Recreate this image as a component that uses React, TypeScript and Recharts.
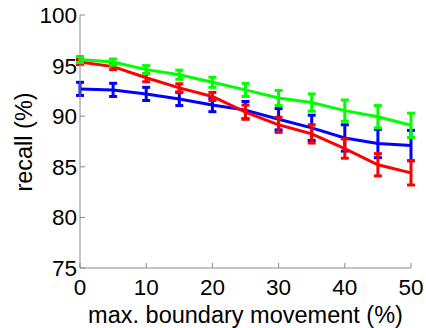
import React from 'react';
import { LineChart, Line, XAxis, YAxis, ErrorBar, Label } from 'recharts';

const movement = [0, 5, 10, 15, 20, 25, 30, 35, 40, 45, 50];

const greenRecall = [95.6, 95.35, 94.6, 94.1, 93.35, 92.6, 91.8, 91.35, 90.55, 89.95, 89.1];
const greenErr = [0.3, 0.3, 0.4, 0.45, 0.5, 0.65, 0.75, 0.85, 1.05, 1.1, 1.2];

const blueRecall = [92.7, 92.6, 92.2, 91.7, 91.1, 90.6, 89.7, 88.85, 87.85, 87.3, 87.1];
const blueErr = [0.65, 0.65, 0.65, 0.65, 0.65, 0.85, 1.05, 1.25, 1.3, 1.4, 1.5];

const redRecall = [95.35, 94.9, 93.8, 92.8, 91.95, 90.4, 89.15, 88.25, 86.8, 85.2, 84.4];
const redErr = [0.25, 0.3, 0.4, 0.4, 0.4, 0.7, 0.75, 0.9, 0.95, 1.1, 1.2];

const xTicks = [0, 10, 20, 30, 40, 50];
const yTicks = [75, 80, 85, 90, 95, 100];

const data = movement.map((m, i) => ({
  m,
  green: greenRecall[i],
  greenErr: greenErr[i],
  blue: blueRecall[i],
  blueErr: blueErr[i],
  red: redRecall[i],
  redErr: redErr[i],
}));

const font = 'Liberation Sans, Arial, sans-serif';
const axisGray = '#8a8a8a';

const YLabel = () => (
  <text
    x={32}
    y={142}
    transform="rotate(-90 32 142)"
    textAnchor="middle"
    fontSize={23.5}
    fontFamily={font}
    fill="#000"
  >
    recall (%)
  </text>
);

const App: React.FC = () => {
  return (
    <div style={{ position: 'absolute', left: 0, top: 0, width: 426, height: 328, background: '#fff' }}>
      <LineChart
        width={426}
        height={328}
        data={data}
        margin={{ top: 15, right: 15, left: 0, bottom: 0 }}
      >
        <XAxis
          dataKey="m"
          type="number"
          domain={[0, 50]}
          ticks={xTicks}
          height={60}
          stroke={axisGray}
          tickSize={-5}
          tickMargin={16}
          tick={{ fill: '#000', fontSize: 22.5, fontFamily: font }}
          interval={0}
        >
          <Label
            value="max. boundary movement (%)"
            position="insideBottom"
            offset={5}
            fontSize={23.5}
            fontFamily={font}
            fill="#000"
          />
        </XAxis>
        <YAxis
          type="number"
          domain={[75, 100]}
          ticks={yTicks}
          width={80}
          stroke={axisGray}
          tickSize={-5}
          tickMargin={8}
          tick={{ fill: '#000', fontSize: 22.5, fontFamily: font }}
          interval={0}
          allowDataOverflow
        >
          <Label content={<YLabel />} />
        </YAxis>
        <Line dataKey="blue" stroke="#0000ff" strokeWidth={3} dot={false} isAnimationActive={false}>
          <ErrorBar dataKey="blueErr" width={4} strokeWidth={3} stroke="#0000ff" isAnimationActive={false} />
        </Line>
        <Line dataKey="red" stroke="#ff0000" strokeWidth={3} dot={false} isAnimationActive={false}>
          <ErrorBar dataKey="redErr" width={4} strokeWidth={3} stroke="#ff0000" isAnimationActive={false} />
        </Line>
        <Line dataKey="green" stroke="#00ff00" strokeWidth={3} dot={false} isAnimationActive={false}>
          <ErrorBar dataKey="greenErr" width={4} strokeWidth={3} stroke="#00ff00" isAnimationActive={false} />
        </Line>
      </LineChart>
    </div>
  );
};

export default App;
